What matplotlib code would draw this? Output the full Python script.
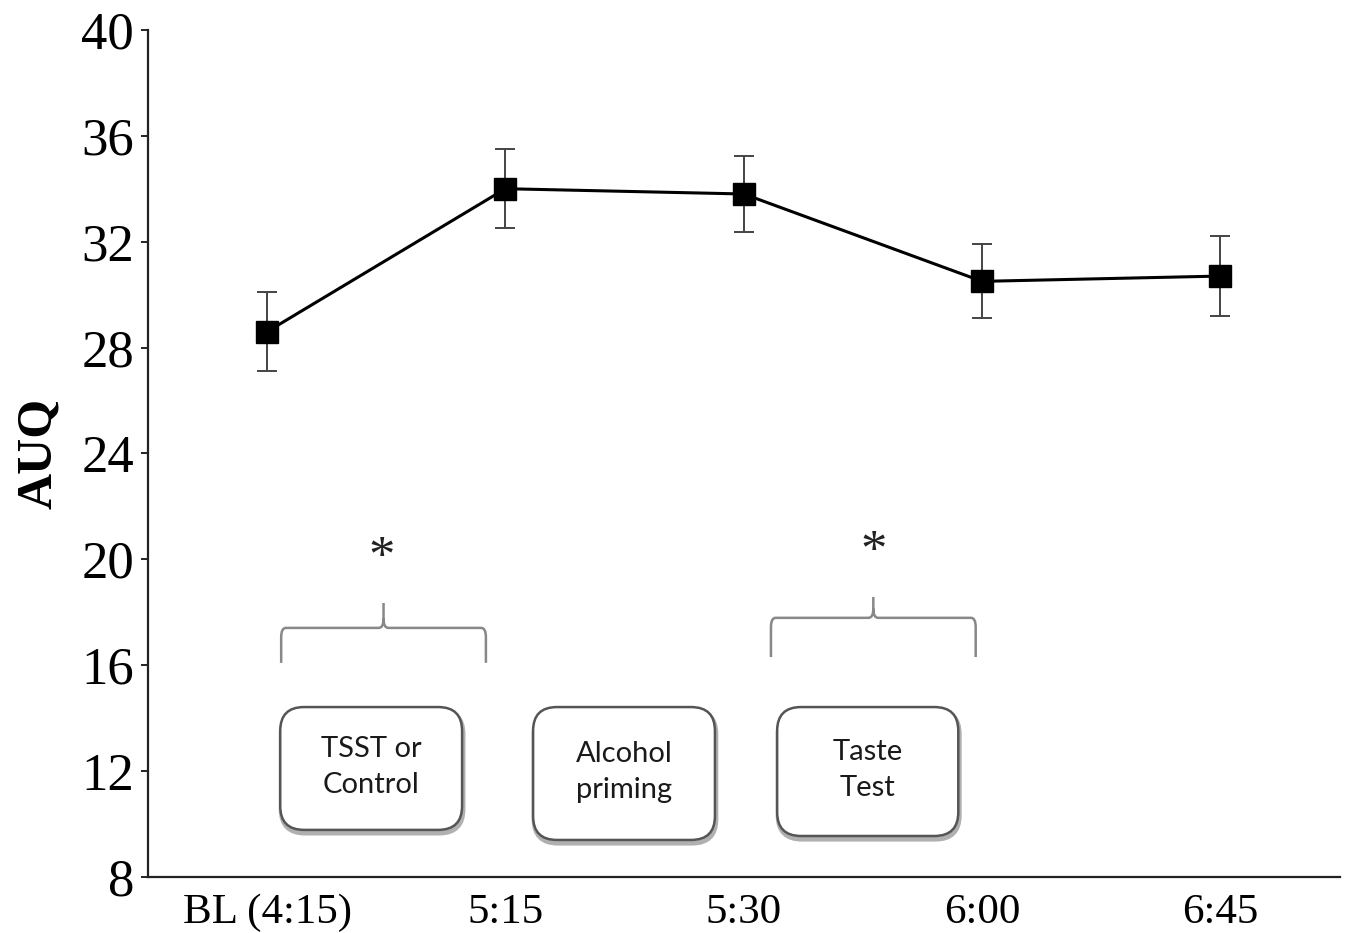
import matplotlib
matplotlib.use("Agg")
import matplotlib.pyplot as plt
from matplotlib.patches import FancyBboxPatch, PathPatch
from matplotlib.path import Path

# ---- data ----
categories = ["BL (4:15)", "5:15", "5:30", "6:00", "6:45"]
auq_mean = [28.6, 34.0, 33.8, 30.5, 30.7]
auq_err = [1.5, 1.5, 1.45, 1.4, 1.5]
y_ticks = [8, 12, 16, 20, 24, 28, 32, 36, 40]
box_labels = ["TSST or\nControl", "Alcohol\npriming", "Taste\nTest"]

plt.rcParams['font.family'] = ['Liberation Serif', 'DejaVu Serif']

fig = plt.figure(figsize=(13.45, 9.33), dpi=100)
ax = fig.add_axes([0.110, 0.060, 0.886, 0.908])

x = list(range(len(categories)))
ax.errorbar(x, auq_mean, yerr=auq_err, fmt='none', ecolor='#444444',
            elinewidth=1.4, capsize=7, capthick=1.4, zorder=2)
ax.plot(x, auq_mean, color='black', lw=2.2, marker='s', markersize=16,
        markerfacecolor='black', zorder=3)

ax.set_xlim(-0.5, 4.5)
ax.set_ylim(8, 40)
ax.set_yticks(y_ticks)
ax.set_yticklabels([str(v) for v in y_ticks], fontsize=38)
ax.set_xticks(x)
ax.set_xticklabels(categories, fontsize=31)
ax.tick_params(axis='x', length=0, pad=12)
ax.tick_params(axis='y', length=5, width=1.2, pad=5, direction='out')
for s in ['top', 'right']:
    ax.spines[s].set_visible(False)
for s in ['left', 'bottom']:
    ax.spines[s].set_linewidth(1.6)
    ax.spines[s].set_color('#222222')
ax.set_ylabel("AUQ", fontsize=36, fontweight='bold', labelpad=14)

# ---- annotation boxes ----
boxes = [(0.055, 0.818, 9.78, 14.42), (1.116, 1.879, 9.40, 14.42),
         (2.14, 2.90, 9.55, 14.42)]
for (x0, x1, y0, y1), lab in zip(boxes, box_labels):
    shadow = FancyBboxPatch((x0 + 0.004, y0 - 0.12), x1 - x0, y1 - y0,
                            boxstyle="round,pad=0,rounding_size=0.1",
                            mutation_aspect=9, fc='none', ec='#b0b0b0',
                            lw=3.5, zorder=1)
    ax.add_patch(shadow)
    p = FancyBboxPatch((x0, y0), x1 - x0, y1 - y0,
                       boxstyle="round,pad=0,rounding_size=0.1",
                       mutation_aspect=9, fc='white', ec='#555555',
                       lw=1.8, zorder=2)
    ax.add_patch(p)
    ax.text((x0 + x1) / 2, (y0 + y1) / 2 + 0.05, lab, ha='center', va='center',
            fontsize=21, family=['Lato', 'DejaVu Sans'], color='#1a1a1a',
            linespacing=1.45, zorder=3)

# ---- braces ----
def brace(ax, x0, x1, yb, yh, yt):
    xm = (x0 + x1) / 2
    r = 0.02
    ry = 0.35
    verts = [(x0, yb), (x0, yh - ry), (x0, yh), (x0 + r, yh),
             (xm - r, yh), (xm, yh), (xm, yh + ry),
             (xm, yt),
             (xm, yh + ry), (xm, yh), (xm + r, yh),
             (x1 - r, yh), (x1, yh), (x1, yh - ry), (x1, yb)]
    codes = [Path.MOVETO, Path.LINETO, Path.CURVE3, Path.CURVE3,
             Path.LINETO, Path.CURVE3, Path.CURVE3,
             Path.LINETO,
             Path.MOVETO, Path.CURVE3, Path.CURVE3,
             Path.LINETO, Path.CURVE3, Path.CURVE3, Path.LINETO]
    ax.add_patch(PathPatch(Path(verts, codes), fc='none', ec='#888888',
                           lw=1.8, zorder=2))

brace(ax, 0.059, 0.918, 16.09, 17.41, 18.35)
brace(ax, 2.114, 2.973, 16.31, 17.79, 18.58)
ax.text(0.482, 20.0, "*", ha='center', va='center', fontsize=38, color='#222222')
ax.text(2.546, 20.25, "*", ha='center', va='center', fontsize=38, color='#222222')

fig.savefig("out.png", dpi=100)
